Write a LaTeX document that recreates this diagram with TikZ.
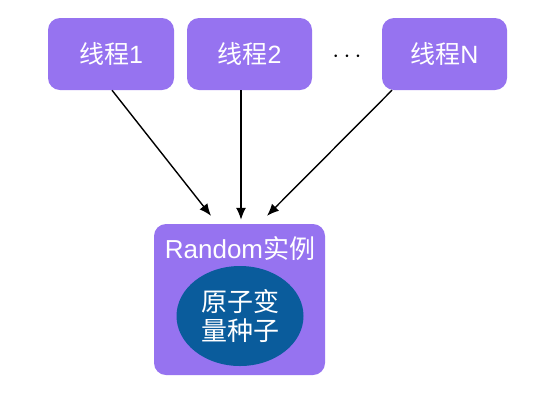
\documentclass[tikz,border=0pt]{standalone}
\usepackage{fontspec}
\setmainfont{Liberation Sans}
\newfontfamily\cjk{Noto Sans CJK SC}
\usetikzlibrary{shapes.geometric,arrows.meta}
\definecolor{boxpurple}{RGB}{150,115,240}
\definecolor{seedblue}{RGB}{10,92,156}
\begin{document}
\begin{tikzpicture}[x=1pt, y=-1pt,
    thread/.style={rectangle, rounded corners=12pt, fill=boxpurple, text=white,
      minimum width=126pt, minimum height=72pt, inner sep=0pt, font=\fontsize{25}{28}\selectfont},
    arr/.style={draw, line width=1.4pt, -{Latex[length=12pt,width=10pt]}}]

    \useasboundingbox (0,0) rectangle (534,400);

    \node at (111, 54) (T1) [thread] {{\cjk 线程}1};
    \node at (249.5, 54) (T2) [thread, minimum width=125pt] {{\cjk 线程}2};
    \node at (444.5, 54) (TN) [thread, minimum width=125pt] {{\cjk 线程}N};
    \node at (347, 57) (Dots) [font=\fontsize{28}{30}\selectfont] {$\cdots$};

    \node at (239.5, 299.5) (R) [rectangle, rounded corners=12pt, fill=boxpurple,
      minimum width=171pt, minimum height=151pt] {};
    \node at (240, 249) (RT) [text=white, font=\fontsize{26}{30}\selectfont] {Random{\cjk 实例}};
    \node at (240, 316) (Seed) [ellipse, fill=seedblue, minimum width=127pt, minimum height=100pt,
      inner sep=0pt, text=white, align=center, font=\cjk\fontsize{26}{29}\selectfont] {原子变\\量种子};

    \path[arr] ([xshift=1pt]T1.south) -- ([xshift=-28.5pt, yshift=8pt]R.north);
    \path[arr] ([xshift=-8.5pt]T2.south) -- ([xshift=1.5pt, yshift=4pt]R.north);
    \path[arr] ([xshift=-52.5pt]TN.south) -- ([xshift=27.5pt, yshift=8pt]R.north);

\end{tikzpicture}
\end{document}
